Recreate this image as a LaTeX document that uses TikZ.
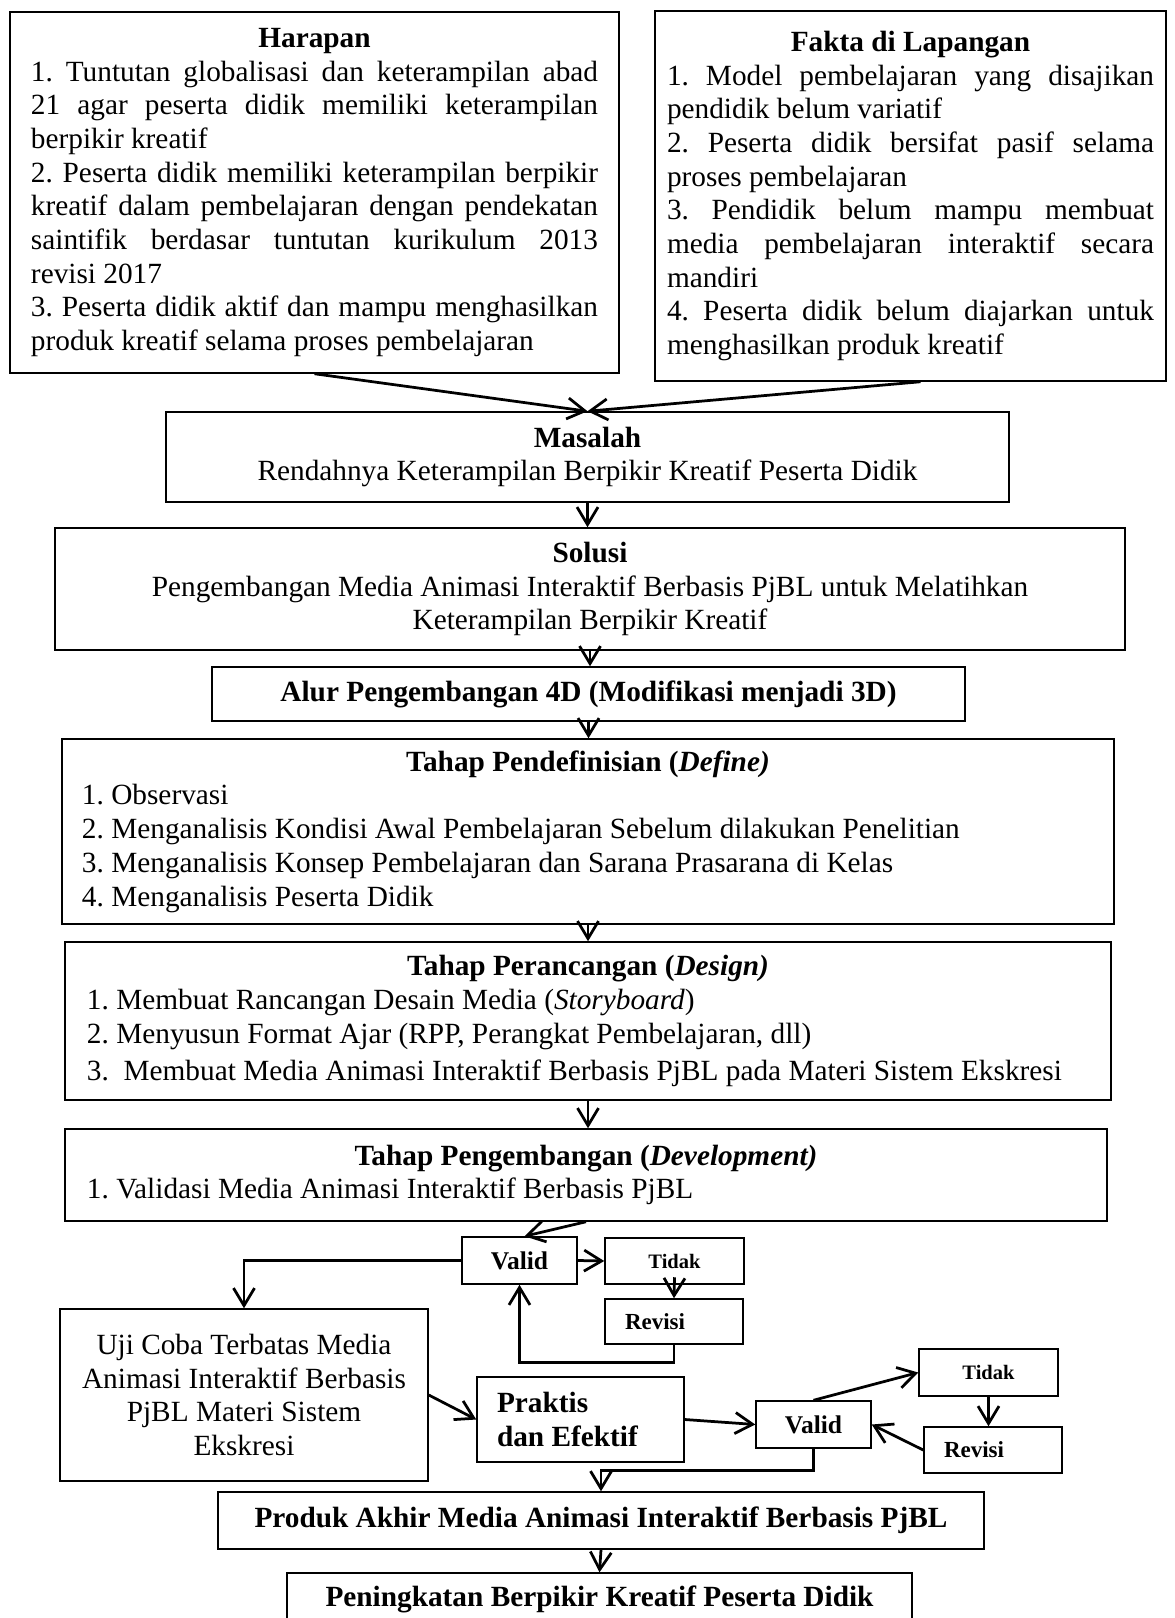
\documentclass[tikz,border=0pt]{standalone}
\usepackage{fontspec}
\setmainfont{Liberation Serif}
\usetikzlibrary{arrows.meta}
\setlength{\parindent}{0pt}
\frenchspacing
\def\fn{\fontsize{11.72pt}{13.48pt}\selectfont}
\def\fv{\fontsize{10.2pt}{12pt}\selectfont\bfseries}

\begin{document}
\begin{tikzpicture}[x=0.4pt, y=-0.4pt,
    box/.style={draw, line width=0.6pt, inner sep=0pt, font=\fn},
    arr/.style={line width=1.1pt, -{Straight Barb[length=7pt, width=8.4pt]}}]
    \clip (0, 0) rectangle (1174, 1618);
    \fill[white] (0, 0) rectangle (1174, 1618);

    \node[box, minimum width=243.6pt, minimum height=144.4pt, text width=226.8pt, align=justify] (harapan) at (314.5, 192.5) {\hyphenpenalty=10000
        {\centering\textbf{Harapan}\par}
        1. Tuntutan globalisasi dan keterampilan abad\linebreak 21 agar peserta didik memiliki keterampilan\linebreak berpikir kreatif\par
        2. Peserta didik memiliki keterampilan berpikir\linebreak kreatif dalam pembelajaran dengan pendekatan\linebreak saintifik berdasar tuntutan kurikulum 2013\linebreak revisi 2017\par
        3. Peserta didik aktif dan mampu menghasilkan\linebreak produk kreatif selama proses pembelajaran};
    \node[box, minimum width=204.4pt, minimum height=148pt, text width=194.8pt, align=justify] (fakta) at (910.5, 196) {\hyphenpenalty=10000
        {\centering\textbf{Fakta di Lapangan}\par}
        1. Model pembelajaran yang disajikan\linebreak pendidik belum variatif\par
        2. Peserta didik bersifat pasif selama\linebreak proses pembelajaran\par
        3. Pendidik belum mampu membuat\linebreak media pembelajaran interaktif secara\linebreak mandiri\par
        4. Peserta didik belum diajarkan untuk\linebreak menghasilkan produk kreatif};

    \node[box, minimum width=337.2pt, minimum height=36pt, align=center] (masalah) at (587.5, 457) {\textbf{Masalah}\\ Rendahnya Keterampilan Berpikir Kreatif Peserta Didik};
    \node[box, minimum width=428pt, minimum height=48.8pt, align=center] (solusi) at (590, 589) {\textbf{Solusi}\\ Pengembangan Media Animasi Interaktif Berbasis PjBL untuk Melatihkan\\ Keterampilan Berpikir Kreatif};
    \node[box, minimum width=301.2pt, minimum height=21.6pt, align=center] (alur) at (588.5, 694) {\textbf{Alur Pengembangan 4D (Modifikasi menjadi 3D)}};
    \node[box, minimum width=420.8pt, minimum height=74pt, text width=404.8pt, align=flush left] (define) at (588, 831.5) {%
        {\centering\textbf{Tahap Pendefinisian (\textit{Define)}}\par}
        1. Observasi\\ 2. Menganalisis Kondisi Awal Pembelajaran Sebelum dilakukan Penelitian\\ 3. Menganalisis Konsep Pembelajaran dan Sarana Prasarana di Kelas\\ 4. Menganalisis Peserta Didik};
    \node[box, minimum width=418.4pt, minimum height=63.2pt, text width=400.8pt, align=flush left] (design) at (588, 1021) {%
        {\centering\textbf{Tahap Perancangan (\textit{Design)}}\par}
        1. Membuat Rancangan Desain Media (\textit{Storyboard})\\ 2. Menyusun Format Ajar (RPP, Perangkat Pembelajaran, dll)\\[1.5pt] 3.\ \ Membuat Media Animasi Interaktif Berbasis PjBL pada Materi Sistem Ekskresi};
    \node[box, minimum width=416.8pt, minimum height=36.8pt, text width=399.2pt, align=flush left] (dev) at (586, 1175) {%
        {\centering\textbf{Tahap Pengembangan (\textit{Development)}}\par}
        1. Validasi Media Animasi Interaktif Berbasis PjBL};

    \node[box, minimum width=46pt, minimum height=18.8pt, font=\fv] (valida) at (519.5, 1260.5) {Valid};
    \node[box, minimum width=55.6pt, minimum height=18.4pt, font=\fontsize{8.2pt}{10pt}\selectfont\bfseries] (tidaka) at (674.5, 1261) {Tidak};
    \node[box, minimum width=55.2pt, minimum height=18pt, text width=39.2pt, align=flush left, font=\fontsize{9.2pt}{11pt}\selectfont\bfseries] (revisia) at (674, 1321.5) {Revisi};
    \node[box, minimum width=147.2pt, minimum height=68.8pt, align=center] (uji) at (244, 1395) {Uji Coba Terbatas Media\\ Animasi Interaktif Berbasis\\ PjBL Materi Sistem\\ Ekskresi};
    \node[box, minimum width=82.8pt, minimum height=34pt, text width=66.8pt, align=flush left, font=\fn\bfseries] (praktis) at (580.5, 1419.5) {Praktis\\ dan Efektif};
    \node[box, minimum width=46pt, minimum height=18.8pt, font=\fv] (validb) at (813.5, 1424.5) {Valid};
    \node[box, minimum width=55.6pt, minimum height=18.8pt, font=\fontsize{8.2pt}{10pt}\selectfont\bfseries] (tidakb) at (988.5, 1372.5) {Tidak};
    \node[box, minimum width=55.2pt, minimum height=18.4pt, text width=39.2pt, align=flush left, font=\fontsize{9.2pt}{11pt}\selectfont\bfseries] (revisib) at (993, 1450) {Revisi};
    \node[box, minimum width=306.4pt, minimum height=22.8pt, font=\fn\bfseries] (produk) at (601, 1520.5) {Produk Akhir Media Animasi Interaktif Berbasis PjBL};
    \node[box, minimum width=250pt, minimum height=20.8pt, font=\fn\bfseries] (hasil) at (599.5, 1599) {Peningkatan Berpikir Kreatif Peserta Didik};

    \draw[arr] (harapan.south) -- (masalah.north);
    \draw[arr] ([xshift=4pt]fakta.south) -- (masalah.north);
    \draw[arr] (masalah.south) -- (masalah.south |- solusi.north);
    \draw[arr] (solusi.south) -- (solusi.south |- alur.north);
    \draw[arr] (alur.south) -- (alur.south |- define.north);
    \draw[arr] (define.south) -- (define.south |- design.north);
    \draw[arr] (design.south) -- (design.south |- dev.north);
    \draw[arr] (dev.south) -- ([xshift=2pt]valida.north);
    \draw[arr] (valida.east) -- (tidaka.west);
    \draw[arr] ([yshift=3pt]tidaka.south) -- (revisia.north);
    \draw[arr] (revisia.south) -- ++(0, 18) -| (valida.south);
    \draw[arr] (valida.west) -| (uji.north);
    \draw[arr] (uji.east) -- (praktis.west);
    \draw[arr] (praktis.east) -- (validb.west);
    \draw[arr] (validb.north) -- (tidakb.west);
    \draw[arr] (tidakb.south) -- (tidakb.south |- revisib.north);
    \draw[arr] (revisib.west) -- (validb.east);
    \draw[arr] (validb.south) -- ++(0, 22) -| (produk.north);
    \draw[arr] (produk.south) -- (hasil.north);
\end{tikzpicture}
\end{document}
